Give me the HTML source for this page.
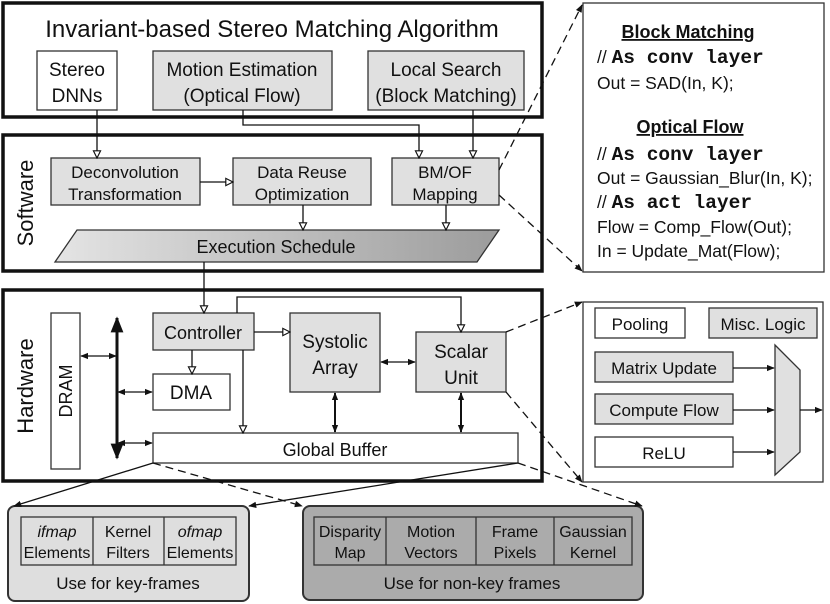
<!DOCTYPE html>
<html><head><meta charset="utf-8"><style>
html,body{margin:0;padding:0;background:#fff;}
svg{display:block;}
text{font-family:"Liberation Sans",Arial,sans-serif;fill:#111;}
.m{font-family:"Liberation Mono",monospace;font-weight:bold;}
</style></head><body>
<svg width="830" height="604" viewBox="0 0 830 604" xmlns="http://www.w3.org/2000/svg">
<defs>
<marker id="oa" viewBox="0 0 10 10" refX="9" refY="5" markerWidth="9" markerHeight="9" markerUnits="userSpaceOnUse" orient="auto"><path d="M1,1 L9,5 L1,9 Z" fill="#fff" stroke="#111" stroke-width="1.3"/></marker>
<marker id="fa" viewBox="0 0 10 10" refX="9" refY="5" markerWidth="8" markerHeight="8" markerUnits="userSpaceOnUse" orient="auto-start-reverse"><path d="M0,1 L10,5 L0,9 Z" fill="#111"/></marker>
<marker id="ba" viewBox="0 0 10 10" refX="9" refY="5" markerWidth="16" markerHeight="16" markerUnits="userSpaceOnUse" orient="auto-start-reverse"><path d="M0,1 L10,5 L0,9 Z" fill="#111"/></marker>
<linearGradient id="g" x1="0" x2="1" y1="0" y2="0"><stop offset="0" stop-color="#e4e4e4"/><stop offset="1" stop-color="#9c9c9c"/></linearGradient>
</defs>
<g stroke="#111" fill="none">
<rect x="3" y="3" width="539" height="114" stroke-width="3.5"/>
<rect x="3" y="135" width="539" height="136" stroke-width="3.5"/>
<rect x="3" y="290" width="539" height="191" stroke-width="3.5"/>
</g>
<g stroke="#333" stroke-width="1.3">
<rect x="37" y="51" width="80" height="59" fill="#fff"/>
<rect x="153" y="51" width="179" height="59" fill="#e0e0e0"/>
<rect x="368" y="51" width="156" height="59" fill="#e0e0e0"/>
<rect x="51" y="158" width="149" height="47" fill="#e0e0e0"/>
<rect x="233" y="158" width="138" height="47" fill="#e0e0e0"/>
<rect x="392" y="158" width="107" height="47" fill="#e0e0e0"/>
<path d="M77,230 L499,230 L477,262 L55,262 Z" fill="url(#g)"/>
<rect x="51" y="313" width="29" height="156" fill="#fff"/>
<rect x="153" y="313" width="101" height="37" fill="#e0e0e0"/>
<rect x="153" y="374" width="77" height="36" fill="#fff"/>
<rect x="290" y="313" width="90" height="79" fill="#e0e0e0"/>
<rect x="416" y="332" width="90" height="60" fill="#e0e0e0"/>
<rect x="153" y="433" width="365" height="30" fill="#fff"/>
<rect x="8" y="506" width="241" height="95" rx="7" fill="#dedede" stroke-width="2"/>
<rect x="21" y="517" width="215" height="48" fill="#dedede"/>
<path d="M93,517 V565 M164,517 V565"/>
<rect x="303" y="506" width="340" height="94" rx="7" fill="#ababab" stroke-width="2"/>
<rect x="314" y="517" width="318" height="48" fill="#ababab"/>
<path d="M386,517 V565 M476,517 V565 M554,517 V565"/>
<rect x="583" y="3" width="241" height="269" fill="#fff"/>
<rect x="583" y="302" width="240" height="180" fill="#fff"/>
<rect x="595" y="308" width="90" height="30" fill="#fff"/>
<rect x="709" y="308" width="108" height="30" fill="#e0e0e0"/>
<rect x="595" y="352" width="138" height="30" fill="#e0e0e0"/>
<rect x="595" y="394" width="138" height="30" fill="#e0e0e0"/>
<rect x="595" y="437" width="138" height="30" fill="#fff"/>
<path d="M775,345 L800,370 L800,452 L775,475 Z" fill="#e0e0e0"/>
</g>
<g stroke="#111" stroke-width="1.3" fill="none">
<path d="M97,110 V158" marker-end="url(#oa)"/>
<path d="M243,110 V125 H419 V158" marker-end="url(#oa)"/>
<path d="M473,110 V158" marker-end="url(#oa)"/>
<path d="M200,182 H233" marker-end="url(#oa)"/>
<path d="M303,205 V230" marker-end="url(#oa)"/>
<path d="M446,205 V230" marker-end="url(#oa)"/>
<path d="M204,262 V313" marker-end="url(#oa)"/>
<path d="M254,332 H290" marker-end="url(#oa)"/>
<path d="M192,350 V374" marker-end="url(#oa)"/>
<path d="M243,350 V433" marker-end="url(#oa)"/>
<path d="M237,313 V297 H461 V332" marker-end="url(#oa)"/>
<path d="M117,318 V458" stroke-width="3" marker-start="url(#ba)" marker-end="url(#ba)"/>
<path d="M81,356 H116" marker-start="url(#fa)" marker-end="url(#fa)"/>
<path d="M118,392 H152" marker-start="url(#fa)" marker-end="url(#fa)"/>
<path d="M118,443 H152" marker-start="url(#fa)" marker-end="url(#fa)"/>
<path d="M381,362 H415" marker-start="url(#fa)" marker-end="url(#fa)"/>
<path d="M335,393 V432" stroke-width="2" marker-start="url(#fa)" marker-end="url(#fa)"/>
<path d="M461,393 V432" stroke-width="2" marker-start="url(#fa)" marker-end="url(#fa)"/>
<path d="M153,463 L14,506" marker-end="url(#fa)"/>
<path d="M518,463 L249,506" marker-end="url(#fa)"/>
<path d="M153,463 L302,506" stroke-dasharray="8,5" marker-end="url(#fa)"/>
<path d="M518,463 L642,506" stroke-dasharray="8,5" marker-end="url(#fa)"/>
<path d="M499,170 L582,5" stroke-dasharray="8,5" marker-end="url(#fa)"/>
<path d="M499,195 L582,271" stroke-dasharray="8,5" marker-end="url(#fa)"/>
<path d="M506,332 L582,302" stroke-dasharray="8,5" marker-end="url(#fa)"/>
<path d="M506,392 L582,482" stroke-dasharray="8,5" marker-end="url(#fa)"/>
<path d="M733,368 H774" marker-end="url(#fa)"/>
<path d="M733,410 H774" marker-end="url(#fa)"/>
<path d="M733,452 H774" marker-end="url(#fa)"/>
<path d="M800,410 H822" marker-end="url(#fa)"/>
</g>
<g font-size="17" text-anchor="middle">
<text x="272" y="37" font-size="24">Invariant-based Stereo Matching Algorithm</text>
<text x="77" y="76" font-size="19">Stereo</text><text x="77" y="102" font-size="19">DNNs</text>
<text x="242" y="76" font-size="19">Motion Estimation</text><text x="242" y="102" font-size="19" fill="#333">(Optical Flow)</text>
<text x="446" y="76" font-size="19">Local Search</text><text x="446" y="102" font-size="19">(Block Matching)</text>
<text x="125" y="178" font-size="17">Deconvolution</text><text x="125" y="200" font-size="17">Transformation</text>
<text x="302" y="178" font-size="17">Data Reuse</text><text x="302" y="200" font-size="17">Optimization</text>
<text x="445" y="178" font-size="17">BM/OF</text><text x="445" y="200" font-size="17">Mapping</text>
<text x="276" y="253" font-size="18">Execution Schedule</text>
<text transform="translate(33,203) rotate(-90)" font-size="22">Software</text>
<text transform="translate(33,386) rotate(-90)" font-size="22">Hardware</text>
<text transform="translate(72,391) rotate(-90)" font-size="18">DRAM</text>
<text x="203" y="339" font-size="18">Controller</text>
<text x="191" y="399" font-size="19">DMA</text>
<text x="335" y="348" font-size="19">Systolic</text><text x="335" y="374" font-size="19">Array</text>
<text x="461" y="358" font-size="19">Scalar</text><text x="461" y="384" font-size="19">Unit</text>
<text x="335" y="456" font-size="18">Global Buffer</text>
<g font-size="16" fill="#333">
<text x="57" y="537" font-style="italic">ifmap</text><text x="57" y="558">Elements</text>
<text x="128" y="537">Kernel</text><text x="128" y="558">Filters</text>
<text x="200" y="537" font-style="italic">ofmap</text><text x="200" y="558">Elements</text>
<text x="350" y="537">Disparity</text><text x="350" y="558">Map</text>
<text x="431" y="537">Motion</text><text x="431" y="558">Vectors</text>
<text x="515" y="537">Frame</text><text x="515" y="558">Pixels</text>
<text x="593" y="537">Gaussian</text><text x="593" y="558">Kernel</text>
</g>
<text x="128" y="589" font-size="17">Use for key-frames</text>
<text x="472" y="589" font-size="17">Use for non-key frames</text>
<text x="640" y="330" font-size="17">Pooling</text>
<text x="763" y="330" font-size="17">Misc. Logic</text>
<text x="664" y="374" font-size="17">Matrix Update</text>
<text x="664" y="416" font-size="17">Compute Flow</text>
<text x="664" y="459" font-size="17">ReLU</text>
</g>
<g font-size="17.5">
<text x="688" y="38" text-anchor="middle" font-weight="bold" font-size="18" text-decoration="underline">Block Matching</text>
<text x="597" y="63">// <tspan class="m" font-size="19.5">As conv layer</tspan></text>
<text x="597" y="89" fill="#222">Out = SAD(In, K);</text>
<text x="690" y="133" text-anchor="middle" font-weight="bold" font-size="18" text-decoration="underline">Optical Flow</text>
<text x="597" y="160">// <tspan class="m" font-size="19.5">As conv layer</tspan></text>
<text x="597" y="184" fill="#222">Out = Gaussian_Blur(In, K);</text>
<text x="597" y="208">// <tspan class="m" font-size="19.5">As act layer</tspan></text>
<text x="597" y="233" fill="#222">Flow = Comp_Flow(Out);</text>
<text x="597" y="257" fill="#222">In = Update_Mat(Flow);</text>
</g>
</svg>
</body></html>
